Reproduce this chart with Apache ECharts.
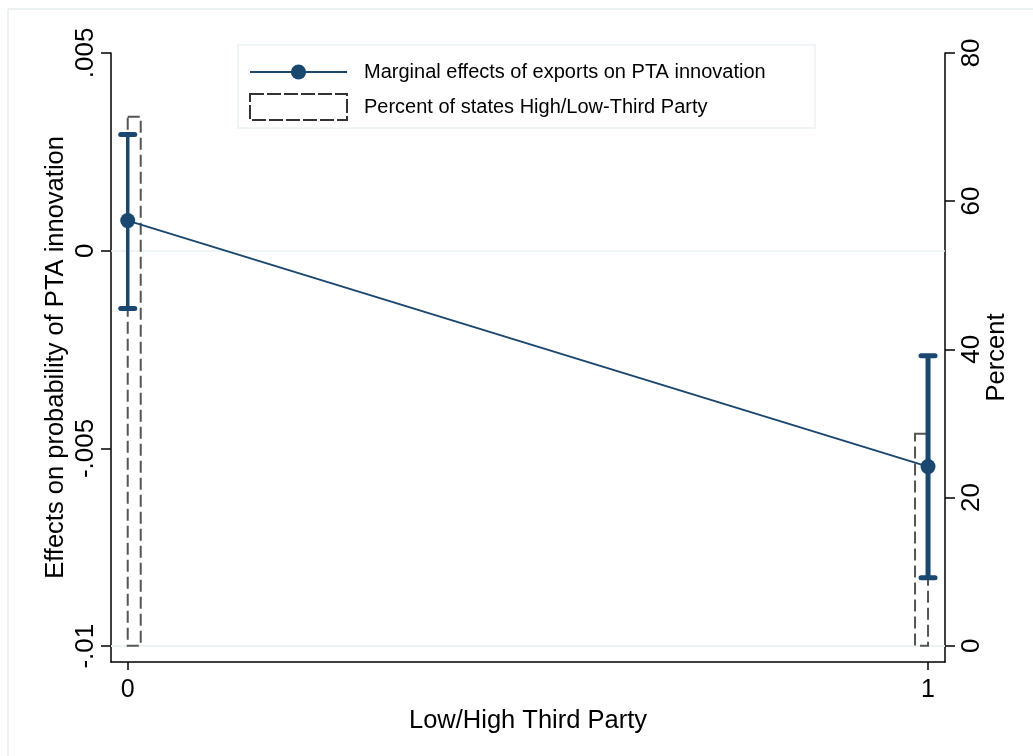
<!DOCTYPE html>
<html>
<head>
<meta charset="utf-8">
<script src="https://cdn.jsdelivr.net/npm/echarts@6/dist/echarts.min.js"></script>
<style>
  html, body { margin: 0; padding: 0; background: #fff; }
  #chart { width: 1033px; height: 756px; }
</style>
</head>
<body>
<div id="chart"></div>
<script>
// Third-party position: 0 = Low, 1 = High
const groups = [0, 1];
const groupTickLabels = ['0', '1'];

// Marginal effect of exports on PTA innovation, with 95% interval
const effect = [0.00076, -0.00546];
const effectLow = [-0.00146, -0.00827];
const effectHigh = [0.00294, -0.00266];

// Share of states in each group (percent)
const percentStates = [71.4, 28.6];

// Axis ticks
const leftTicks = [-0.01, -0.005, 0, 0.005];
const leftTickLabels = ['-.01', '-.005', '0', '.005'];
const rightTicks = [0, 20, 40, 60, 80];

const FONT = 'Liberation Sans, Arial, Helvetica, sans-serif';
const NAVY = '#1a476f';
const GRID = '#eaf2f3';
const DASH = '#555555';

const lineData = groups.map((g, i) => [g, effect[i]]);
const ciData = groups.map((g, i) => [g, effectLow[i], effectHigh[i]]);
const barData = groups.map((g, i) => [g, percentStates[i]]);

const chart = echarts.init(document.getElementById('chart'), null, { renderer: 'canvas' });

const option = {
  animation: false,
  backgroundColor: '#ffffff',
  textStyle: { fontFamily: FONT },
  grid: { left: 111, right: 88, top: 52.9, bottom: 94, containLabel: false },
  xAxis: {
    type: 'value',
    min: -0.0209,
    max: 1.0212,
    name: 'Low/High Third Party',
    nameLocation: 'middle',
    nameGap: 44,
    nameTextStyle: { fontSize: 25.5, color: '#000', fontFamily: FONT },
    axisLine: { show: true, onZero: false, lineStyle: { color: '#000', width: 1.5 } },
    axisTick: { show: true, customValues: groups, length: 8, lineStyle: { color: '#000', width: 1.5 } },
    axisLabel: {
      customValues: groups,
      formatter: v => groupTickLabels[groups.indexOf(v)],
      fontSize: 25, color: '#000', margin: 16, fontFamily: FONT
    },
    splitLine: { show: false }
  },
  yAxis: [
    {
      type: 'value',
      position: 'left',
      min: -0.0104,
      max: 0.005,
      name: 'Effects on probability of PTA innovation',
      nameLocation: 'middle',
      nameRotate: 90,
      nameGap: 42,
      nameMoveOverlap: false,
      nameTextStyle: { fontSize: 25.5, color: '#000', fontFamily: FONT },
      axisLine: { show: true, onZero: false, lineStyle: { color: '#000', width: 1.5 } },
      axisTick: { show: true, customValues: leftTicks, length: 10, lineStyle: { color: '#000', width: 1.5 } },
      axisLabel: {
        customValues: leftTicks,
        rotate: 90,
        formatter: v => leftTickLabels[leftTicks.indexOf(v)],
        fontSize: 26, color: '#000', margin: 12, fontFamily: FONT
      },
      splitLine: { show: false }
    },
    {
      type: 'value',
      position: 'right',
      min: -2.2,
      max: 80,
      name: 'Percent',
      nameLocation: 'middle',
      nameRotate: 90,
      nameGap: 39,
      nameMoveOverlap: false,
      nameTextStyle: { fontSize: 25.5, color: '#000', fontFamily: FONT },
      axisLine: { show: true, onZero: false, lineStyle: { color: '#000', width: 1.5 } },
      axisTick: { show: true, customValues: rightTicks, length: 10, lineStyle: { color: '#000', width: 1.5 } },
      axisLabel: {
        customValues: rightTicks,
        rotate: 90,
        fontSize: 26, color: '#000', margin: 14, fontFamily: FONT
      },
      splitLine: { show: false }
    }
  ],
  legend: [
    {
      z: 20,
      padding: 0,
      left: 249, top: 62,
      itemWidth: 97, itemHeight: 19,
      textStyle: { fontSize: 20, color: '#000', fontFamily: FONT, padding: [0, 0, 0, 12] },
      data: ['Marginal effects of exports on PTA innovation']
    },
    {
      z: 20,
      padding: 0,
      left: 249, top: 93,
      itemWidth: 97, itemHeight: 26,
      textStyle: { fontSize: 20, color: '#000', fontFamily: FONT, padding: [0, 0, 0, 12] },
      data: [{
        name: 'Percent of states High/Low-Third Party',
        icon: 'rect',
        itemStyle: { color: '#fff', borderColor: '#333', borderWidth: 2, borderType: [14, 3] }
      }]
    }
  ],
  graphic: [
    { type: 'line', z: 0, shape: { x1: 8, y1: 9, x2: 1033, y2: 9 }, style: { stroke: '#e6edef', lineWidth: 1.5 } },
    { type: 'line', z: 0, shape: { x1: 8, y1: 9, x2: 8, y2: 756 }, style: { stroke: '#e6edef', lineWidth: 1.5 } },
    { type: 'rect', z: 10, shape: { x: 238, y: 45, width: 577, height: 83 }, style: { fill: '#fff', stroke: GRID, lineWidth: 1.5 } }
  ],
  series: [
    {
      name: 'Percent of states High/Low-Third Party',
      type: 'custom',
      xAxisIndex: 0,
      yAxisIndex: 1,
      z: 2,
      silent: true,
      itemStyle: { color: '#fff', borderColor: DASH },
      data: barData,
      renderItem: (params, api) => {
        const x = api.value(0);
        const base = api.coord([x, 0]);
        const top = api.coord([x, api.value(1)]);
        const w = 13;
        // each bar sits on the inner side of its group position
        const left = x < 0.5 ? base[0] : base[0] - w;
        return {
          type: 'rect',
          shape: { x: left, y: top[1], width: w, height: base[1] - top[1] },
          style: { fill: 'none', stroke: DASH, lineWidth: 2, lineDash: [12, 5] }
        };
      }
    },
    {
      name: 'ci',
      type: 'custom',
      xAxisIndex: 0,
      yAxisIndex: 0,
      z: 3,
      silent: true,
      data: ciData,
      renderItem: (params, api) => {
        const x = api.value(0);
        const lo = api.coord([x, api.value(1)]);
        const hi = api.coord([x, api.value(2)]);
        const capHalf = 7;
        const w = params.dataIndex === 0 ? 3.5 : 5;
        const st = { stroke: NAVY, lineWidth: w, lineCap: 'round' };
        return {
          type: 'group',
          children: [
            { type: 'line', shape: { x1: lo[0], y1: lo[1], x2: hi[0], y2: hi[1] }, style: Object.assign({}, st, { lineCap: 'butt' }) },
            { type: 'line', shape: { x1: lo[0] - capHalf, y1: lo[1], x2: lo[0] + capHalf, y2: lo[1] }, style: Object.assign({}, st, { lineWidth: 5 }) },
            { type: 'line', shape: { x1: hi[0] - capHalf, y1: hi[1], x2: hi[0] + capHalf, y2: hi[1] }, style: Object.assign({}, st, { lineWidth: 5 }) }
          ]
        };
      }
    },
    {
      name: 'Marginal effects of exports on PTA innovation',
      type: 'line',
      xAxisIndex: 0,
      yAxisIndex: 0,
      z: 4,
      data: lineData,
      symbol: 'circle',
      symbolSize: 15,
      itemStyle: { color: NAVY },
      lineStyle: { color: NAVY, width: 2 },
      emphasis: { disabled: true },
      markLine: {
        silent: true,
        z: 1,
        symbol: 'none',
        label: { show: false },
        lineStyle: { color: GRID, width: 1.5, type: 'solid' },
        emphasis: { disabled: true },
        data: leftTicks.map(v => ({ yAxis: v }))
      }
    }
  ]
};

chart.setOption(option);
</script>
</body>
</html>
